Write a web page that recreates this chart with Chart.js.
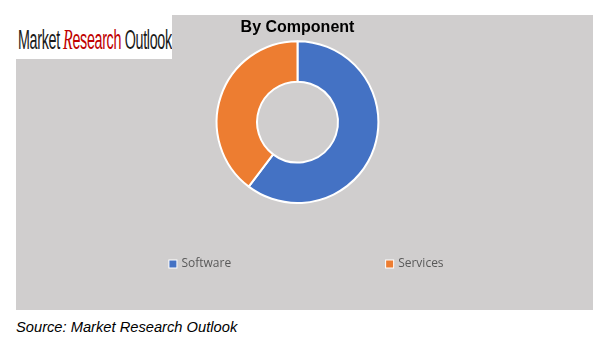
<!DOCTYPE html>
<html>
<head>
<meta charset="utf-8">
<script src="https://cdn.jsdelivr.net/npm/chart.js@4.4.0/dist/chart.umd.min.js"></script>
<style>
  html, body { margin: 0; padding: 0; background: #fff; }
  body { width: 606px; height: 352px; position: relative; overflow: hidden; }
  #panel { position: absolute; left: 16px; top: 15px; width: 577px; height: 295px; background: #d0cece; }
  #logo { position: absolute; left: 0; top: 0; width: 172px; height: 59px; background: #fff; overflow: hidden; }
  #logo .txt { position: absolute; left: 18px; top: 25px; white-space: nowrap;
    font-family: "Liberation Sans", Arial, sans-serif; font-size: 27px; line-height: 27px;
    color: #1a1a1a; letter-spacing: -0.6px; transform: scaleX(0.53); transform-origin: left top; }
  #logo .red { color: #c00000; margin-left: 6px; }
  #logo .r { font-family: "Liberation Serif", serif; font-style: italic; font-size: 30px; }
  #source { position: absolute; left: 16px; top: 319px; font-family: "Liberation Sans", Arial, sans-serif;
    font-style: italic; font-size: 14.7px; color: #000; }
</style>
</head>
<body>
<div id="panel"><canvas id="chart" width="577" height="295"></canvas></div>
<div id="logo"><div class="txt">Market<span class="red"><span class="r">R</span>esearch</span> Outlook</div></div>
<div id="source">Source: Market Research Outlook</div>
<script>
// data
const categories = ['Software', 'Services'];
const shares = [60.3, 39.7];
const colors = ['#4472c4', '#ed7d31'];
const chartTitle = 'By Component';

// legend drawn spread out like the Excel one
const spreadLegend = {
  id: 'spreadLegend',
  afterDraw(chart) {
    const ctx = chart.ctx;
    const ds = chart.data.datasets[0];
    const box = 7, textGap = 5, itemGap = 155;
    ctx.save();
    ctx.font = '12px "Open Sans", "Liberation Sans", sans-serif';
    const widths = chart.data.labels.map(l => box + textGap + ctx.measureText(l).width);
    const total = widths.reduce((a, b) => a + b, 0) + itemGap * (widths.length - 1);
    let x = chart.width / 2 + 2 - total / 2;
    const y = 249;
    chart.data.labels.forEach((label, i) => {
      ctx.fillStyle = '#ffffff';
      ctx.fillRect(x - 1, y - box / 2 - 1, box + 2, box + 2);
      ctx.fillStyle = ds.backgroundColor[i];
      ctx.fillRect(x, y - box / 2, box, box);
      ctx.fillStyle = '#595959';
      ctx.textBaseline = 'middle';
      ctx.fillText(label, x + box + textGap, y);
      x += widths[i] + itemGap;
    });
    ctx.restore();
  }
};

const ctx = document.getElementById('chart').getContext('2d');
new Chart(ctx, {
  type: 'doughnut',
  data: {
    labels: categories,
    datasets: [{
      data: shares,
      backgroundColor: colors,
      borderColor: '#ffffff',
      borderWidth: 2
    }]
  },
  options: {
    responsive: false,
    animation: false,
    cutout: '50%',
    layout: { padding: { top: 0, bottom: 106, left: 0, right: 14 } },
    plugins: {
      legend: { display: false },
      tooltip: { enabled: false },
      title: {
        display: true,
        text: chartTitle,
        color: '#000',
        font: { family: '"Liberation Sans", Arial, sans-serif', size: 16, weight: 'bold' },
        padding: { top: 3, bottom: 3 }
      }
    }
  },
  plugins: [spreadLegend]
});
</script>
</body>
</html>
